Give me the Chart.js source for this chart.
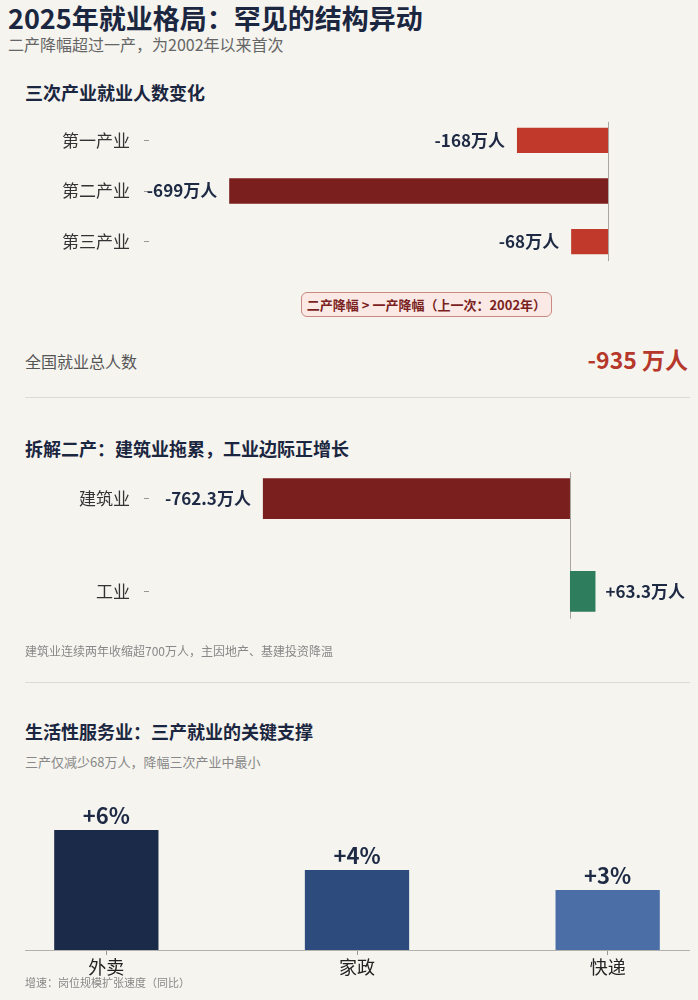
<!DOCTYPE html>
<html lang="zh-CN">
<head>
<meta charset="utf-8">
<title>2025年就业格局</title>
<script src="https://cdn.jsdelivr.net/npm/chart.js@4.4.1/dist/chart.umd.min.js"></script>
<style>
	html, body {
		margin: 0;
		padding: 0;
	}
	body {
		position: relative;
		width: 698px;
		height: 1000px;
		overflow: hidden;
		background: #f5f4ef;
		font-family: 'Noto Sans CJK SC', 'Noto Sans', sans-serif;
		color: #1b2640;
	}
	.txt {
		position: absolute;
		white-space: nowrap;
		line-height: 1;
	}
	.title { left: 8px; top: 4px; font-size: 27px; font-weight: 700; color: #1b2640; }
	.subtitle { left: 8px; top: 36px; font-size: 16px; color: #666; }
	.section { left: 25px; font-size: 18px; font-weight: 700; color: #1b2640; }
	.note { left: 25px; font-size: 12px; color: #888; }
	.divider {
		position: absolute;
		left: 25px;
		width: 665px;
		height: 0;
		border-top: 1.5px solid #dcdad5;
	}
	.callout {
		position: absolute;
		left: 301px;
		top: 292px;
		width: 249px;
		height: 23px;
		border: 1px solid #c98a82;
		border-radius: 6px;
		background: #fbe9e6;
		color: #7a1f1d;
		font-size: 13px;
		font-weight: 700;
		text-align: center;
		line-height: 23px;
		white-space: nowrap;
	}
	canvas { position: absolute; }
</style>
</head>
<body>

<div class="txt title">2025年就业格局：罕见的结构异动</div>
<div class="txt subtitle">二产降幅超过一产，为2002年以来首次</div>

<div class="txt section" style="top:83px">三次产业就业人数变化</div>
<canvas id="sectorChart" width="698" height="200" style="left:0;top:91px"></canvas>
<div class="callout">二产降幅 &gt; 一产降幅（上一次：2002年）</div>

<div class="txt" style="left:25px;top:353px;font-size:16px;color:#555">全国就业总人数</div>
<div class="txt" style="right:10px;top:348px;font-size:23px;font-weight:700;color:#b5382a">-935 万人</div>
<div class="divider" style="top:397px"></div>

<div class="txt section" style="top:439px">拆解二产：建筑业拖累，工业边际正增长</div>
<canvas id="splitChart" width="698" height="234" style="left:0;top:428px"></canvas>
<div class="txt note" style="top:645px">建筑业连续两年收缩超700万人，主因地产、基建投资降温</div>
<div class="divider" style="top:682px"></div>

<div class="txt section" style="top:722px">生活性服务业：三产就业的关键支撑</div>
<div class="txt note" style="top:755px;font-size:13px">三产仅减少68万人，降幅三次产业中最小</div>
<canvas id="serviceChart" width="752" height="210" style="left:-19px;top:770px"></canvas>
<div class="txt note" style="top:977px;font-size:11px">增速：岗位规模扩张速度（同比）</div>

<script>
// 三次产业就业人数变化（万人）
const sectorLabels = ['第一产业', '第二产业', '第三产业'];
const sectorChange = [-168, -699, -68];

// 拆解二产（万人）
const splitLabels = ['建筑业', '工业'];
const splitChange = [-762.3, 63.3];

// 生活性服务业岗位增速（%）
const serviceLabels = ['外卖', '家政', '快递'];
const serviceGrowth = [6, 4, 3];

(function () {
	const FONT = "'Noto Sans CJK SC', 'Noto Sans', sans-serif";
	const INK = '#1e2a44';

	Chart.defaults.font.family = FONT;
	Chart.defaults.animation = false;

	const fmtWan = (v) => (v > 0 ? '+' + v : String(v)) + '万人';

	// value labels next to the bar ends
	const barLabels = {
		id: 'barLabels',
		afterDatasetsDraw(chart, args, opts) {
			const { ctx } = chart;
			const meta = chart.getDatasetMeta(0);
			const data = chart.data.datasets[0].data;
			ctx.save();
			ctx.font = `700 ${opts.size || 17}px ${FONT}`;
			ctx.fillStyle = INK;
			meta.data.forEach((bar, i) => {
				const v = data[i];
				const text = opts.format(v);
				if (opts.vertical) {
					ctx.textAlign = 'center';
					ctx.textBaseline = 'bottom';
					ctx.fillText(text, bar.x, bar.y - 3);
				} else if (v < 0) {
					ctx.textAlign = 'right';
					ctx.textBaseline = 'middle';
					ctx.fillText(text, bar.x - 12, bar.y);
				} else {
					ctx.textAlign = 'left';
					ctx.textBaseline = 'middle';
					ctx.fillText(text, bar.x + 10, bar.y);
				}
			});
			ctx.restore();
		}
	};

	// thin zero line spanning the bars
	const zeroLine = {
		id: 'zeroLine',
		beforeDatasetsDraw(chart) {
			const meta = chart.getDatasetMeta(0);
			if (!meta.data.length) return;
			let top = Infinity, bottom = -Infinity;
			meta.data.forEach((bar) => {
				top = Math.min(top, bar.y - bar.height / 2);
				bottom = Math.max(bottom, bar.y + bar.height / 2);
			});
			const x = Math.round(chart.scales.x.getPixelForValue(0)) + 0.5;
			const { ctx } = chart;
			ctx.save();
			ctx.strokeStyle = '#a9a6a0';
			ctx.lineWidth = 1;
			ctx.beginPath();
			ctx.moveTo(x, top - 6);
			ctx.lineTo(x, bottom + 7);
			ctx.stroke();
			ctx.restore();
		}
	};

	// baseline under the column chart
	const baseLine = {
		id: 'baseLine',
		afterDatasetsDraw(chart) {
			const { ctx, chartArea } = chart;
			const y = Math.round(chart.scales.y.getPixelForValue(0)) + 0.5;
			ctx.save();
			ctx.strokeStyle = '#b3b1ab';
			ctx.lineWidth = 1.2;
			ctx.beginPath();
			ctx.moveTo(chartArea.left + 44, y);
			ctx.lineTo(chartArea.right - 43, y);
			ctx.stroke();
			ctx.restore();
		}
	};

	// left category axis; its tick padding also pads the chart area top/bottom (~24px)
	const categoryAxis = (width) => ({
		position: 'left',
		border: { display: false },
		grid: {
			drawOnChartArea: false,
			offset: false,
			tickLength: 5,
			color: '#9a9892'
		},
		ticks: {
			padding: 14,
			color: '#333',
			font: { size: 17 }
		},
		afterFit(scale) {
			scale.width = width;
		}
	});

	const app = {
		sectorChart() {
			const el = document.getElementById('sectorChart');
			if (!el) return;
			new Chart(el.getContext('2d'), {
				type: 'bar',
				data: {
					labels: sectorLabels,
					datasets: [{
						data: sectorChange,
						backgroundColor: ['#c0392b', '#7a1f1d', '#c0392b'],
						borderWidth: 0,
						categoryPercentage: 1,
						barPercentage: 0.5
					}]
				},
				options: {
					indexAxis: 'y',
					responsive: false,
					layout: { padding: { top: 0, bottom: 0, left: 0, right: 90 } },
					plugins: {
						legend: { display: false },
						tooltip: { enabled: false },
						barLabels: { format: fmtWan, size: 17 }
					},
					scales: {
						x: { display: false, min: -847, max: 0 },
						y: categoryAxis(149)
					}
				},
				plugins: [zeroLine, barLabels]
			});
		},

		splitChart() {
			const el = document.getElementById('splitChart');
			if (!el) return;
			new Chart(el.getContext('2d'), {
				type: 'bar',
				data: {
					labels: splitLabels,
					datasets: [{
						data: splitChange,
						backgroundColor: ['#7a1f1d', '#2e7d5c'],
						borderWidth: 0,
						categoryPercentage: 1,
						barPercentage: 0.44
					}]
				},
				options: {
					indexAxis: 'y',
					responsive: false,
					layout: { padding: { top: 0, bottom: 0, left: 0, right: 10 } },
					plugins: {
						legend: { display: false },
						tooltip: { enabled: false },
						barLabels: { format: fmtWan, size: 17 }
					},
					scales: {
						x: { display: false, min: -1045, max: 293 },
						y: categoryAxis(149)
					}
				},
				plugins: [zeroLine, barLabels]
			});
		},

		serviceChart() {
			const el = document.getElementById('serviceChart');
			if (!el) return;
			new Chart(el.getContext('2d'), {
				type: 'bar',
				data: {
					labels: serviceLabels,
					datasets: [{
						data: serviceGrowth,
						backgroundColor: ['#1b2a48', '#2d4b7c', '#4a6ea5'],
						borderWidth: 0,
						categoryPercentage: 1,
						barPercentage: 0.416
					}]
				},
				options: {
					responsive: false,
					layout: { padding: { top: 20, bottom: 0, left: 0, right: 0 } },
					plugins: {
						legend: { display: false },
						tooltip: { enabled: false },
						barLabels: {
							vertical: true,
							size: 22,
							format: (v) => '+' + v + '%'
						}
					},
					scales: {
						y: { display: false, min: 0, max: 8 },
						x: {
							border: { display: false },
							grid: {
								drawOnChartArea: false,
								offset: false,
								tickLength: 5,
								color: '#9a9892'
							},
							ticks: {
								padding: 1,
								color: '#222',
								font: { size: 18 }
							},
							afterFit(scale) {
								scale.height = 30;
							}
						}
					}
				},
				plugins: [baseLine, barLabels]
			});
		},

		init() {
			app.sectorChart();
			app.splitChart();
			app.serviceChart();
		}
	};

	window.app = app;
})();

document.addEventListener('DOMContentLoaded', () => {
	window.app?.init?.();
});
</script>
</body>
</html>
